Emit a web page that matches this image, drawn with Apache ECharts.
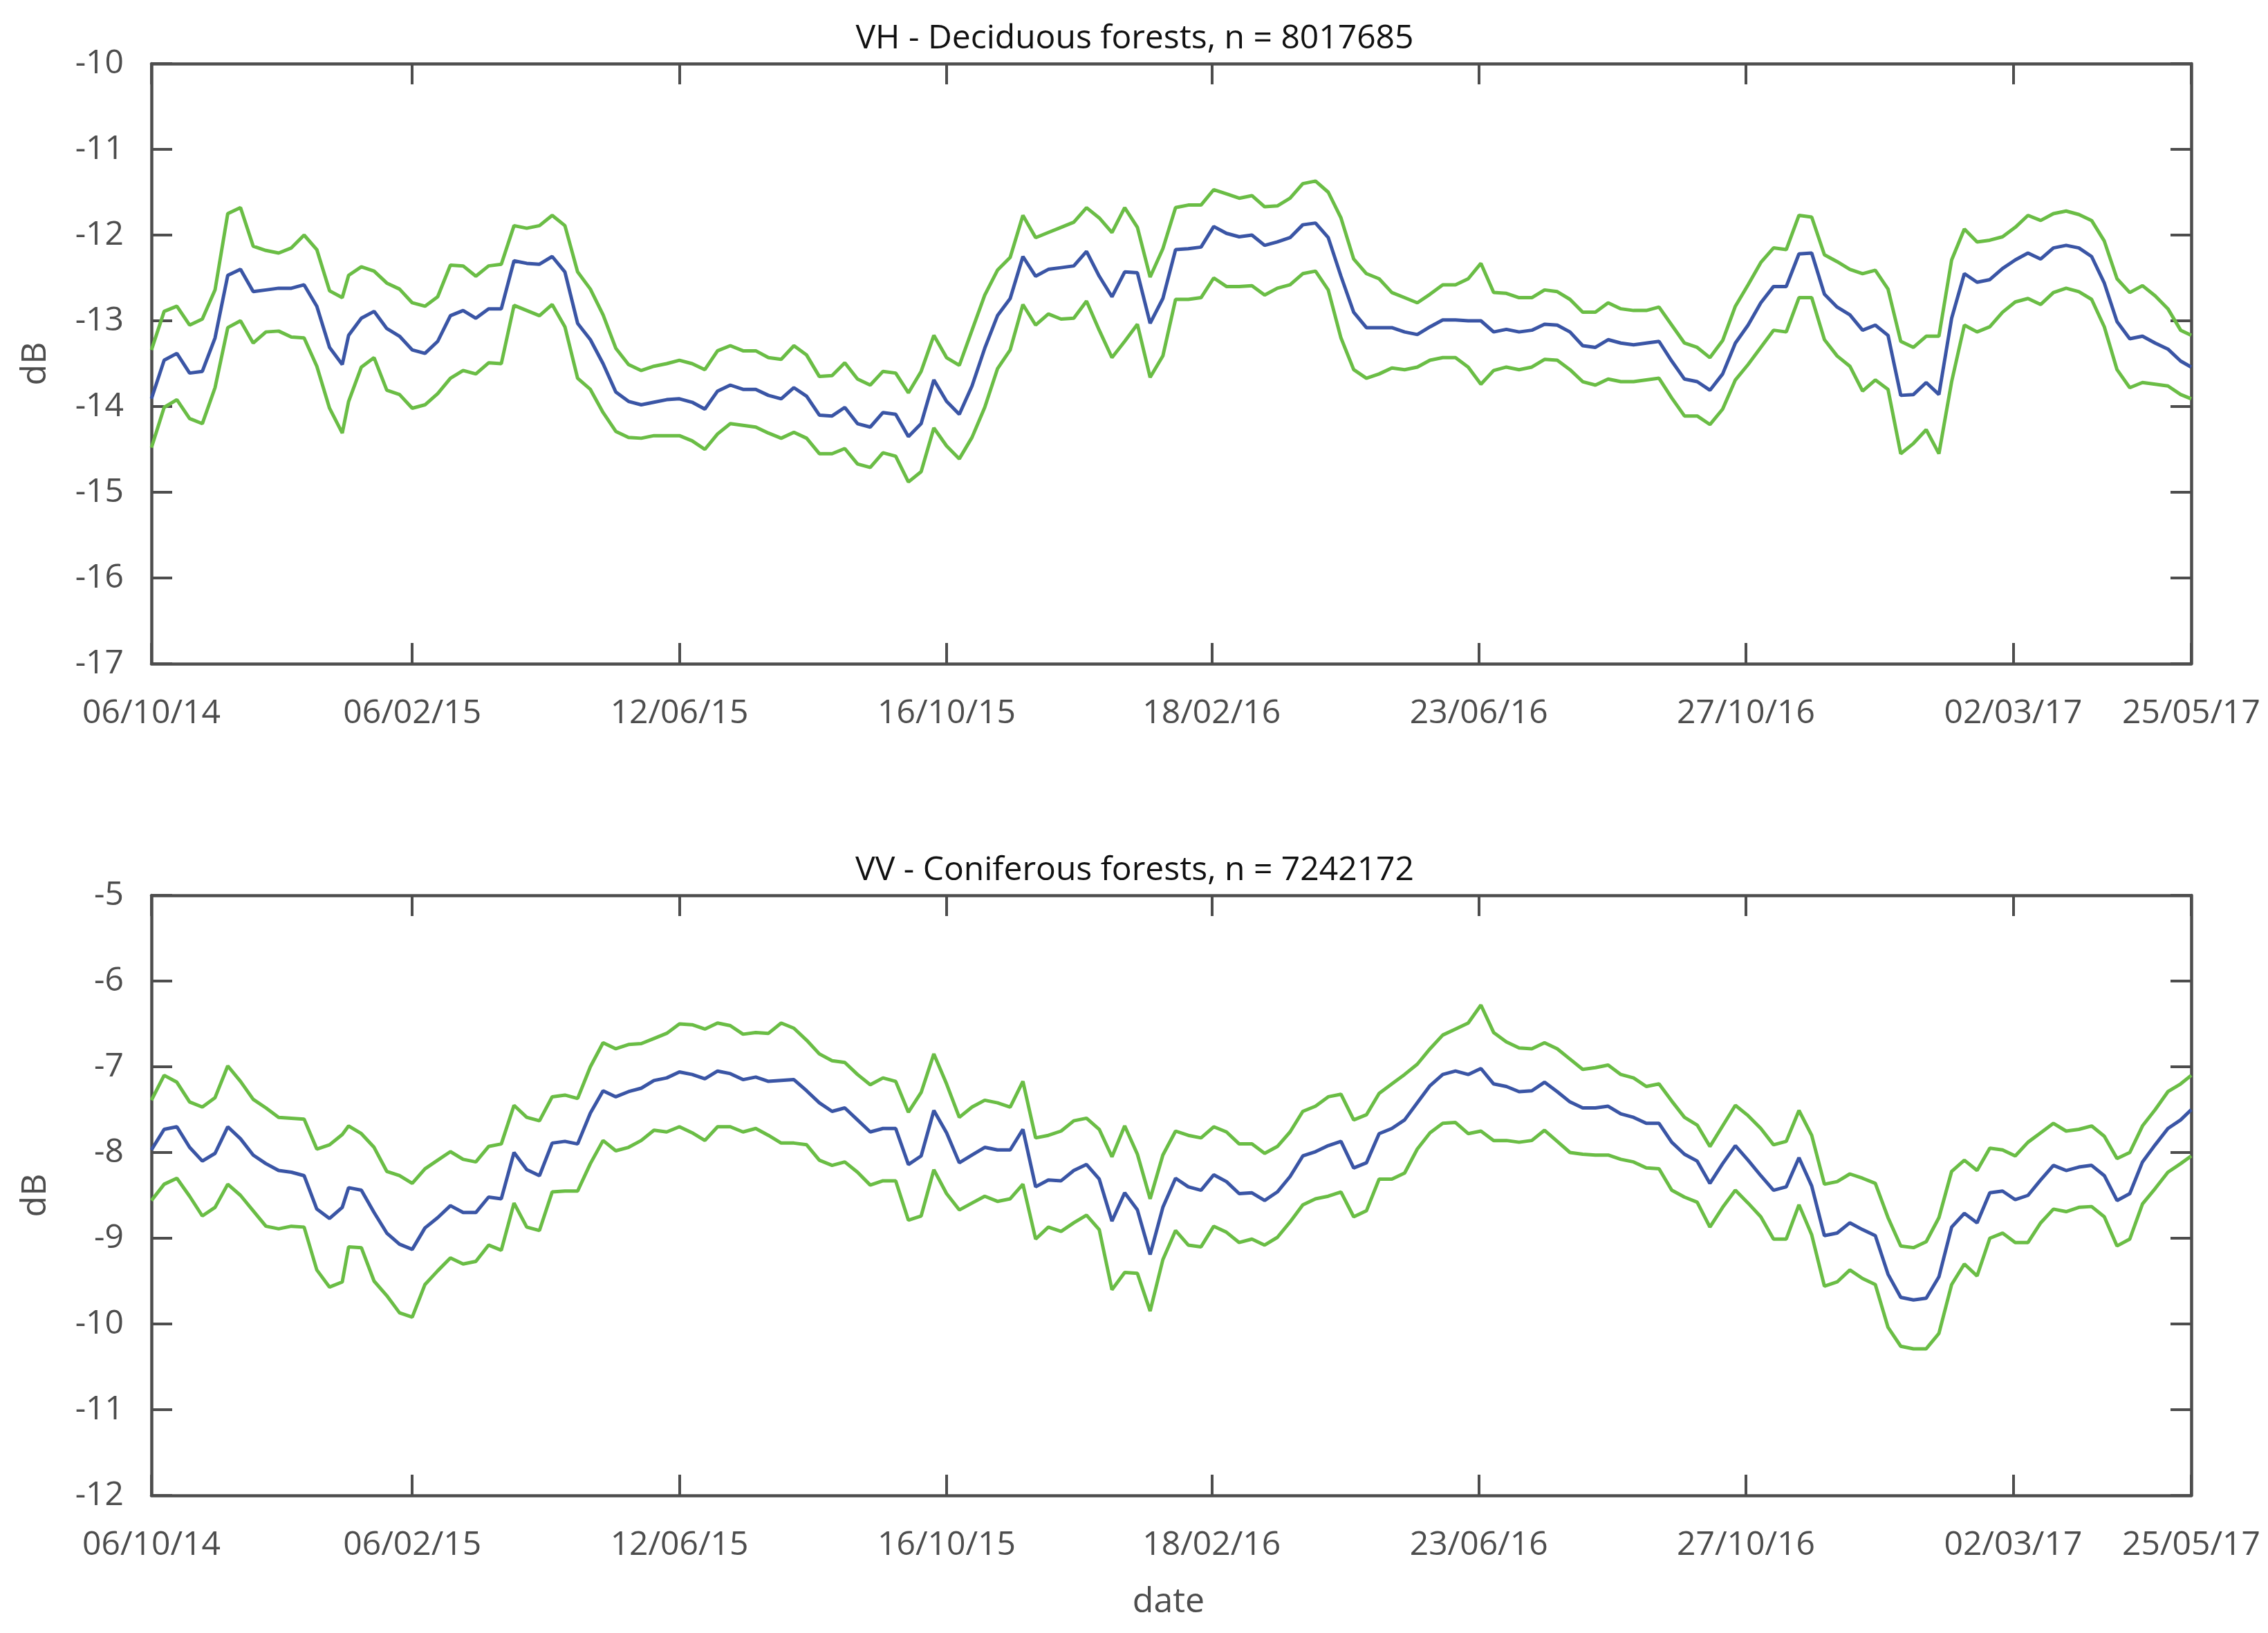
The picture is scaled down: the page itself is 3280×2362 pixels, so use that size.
<!DOCTYPE html>
<html>
<head>
<meta charset="utf-8">
<script src="https://cdn.jsdelivr.net/npm/echarts@6/dist/echarts.min.js"></script>
<style>
html,body{margin:0;padding:0;background:#fff;}
#chart{width:3280px;height:2362px;}
</style>
</head>
<body>
<div id="chart"></div>
<script>
// Day offsets since 06/10/14 of each acquisition
var dates = [0,6,12,18,24,30,36,42,48,54,60,66,72,78,84,90,
93,99,105,111,117,123,129,135,141,147,153,159,165,171,177,183,189,195,201,207,213,219,225,231,237,
243,249,255,261,267,273,279,285,291,297,303,309,315,321,327,333,339,345,351,357,363,369,375,381,387,393,399,405,411,417,423,429,435,441,447,453,459,465,471,477,483,
489,495,501,507,513,519,525,531,537,543,549,555,561,567,573,579,585,591,597,603,609,615,621,627,633,639,645,651,657,663,669,675,681,687,693,699,705,711,717,723,
729,735,741,747,753,759,765,771,777,783,789,795,801,807,813,819,825,831,837,843,849,855,861,867,873,879,885,891,897,903,909,915,921,927,933,939,945,951,957,962];

var tickDays = [0,123,249,375,500,626,752,878,962];
var tickLabels = ['06/10/14','06/02/15','12/06/15','16/10/15','18/02/16','23/06/16','27/10/16','02/03/17','25/05/17'];

var vhMean = [-13.91,-13.46,-13.38,-13.61,-13.59,-13.20,-12.47,-12.40,-12.66,-12.64,
-12.62,-12.62,-12.58,-12.83,-13.31,-13.51,-13.17,-12.97,-12.89,-13.09,
-13.18,-13.34,-13.38,-13.24,-12.94,-12.88,-12.97,-12.86,-12.86,-12.30,
-12.33,-12.34,-12.25,-12.43,-13.03,-13.22,-13.50,-13.83,-13.94,-13.98,-13.95,
-13.92,-13.91,-13.95,-14.03,-13.82,-13.75,-13.80,-13.80,-13.87,-13.91,
-13.78,-13.88,-14.10,-14.11,-14.01,-14.20,-14.24,-14.07,-14.09,-14.35,
-14.20,-13.69,-13.94,-14.09,-13.76,-13.32,-12.94,-12.74,-12.25,-12.48,
-12.40,-12.38,-12.36,-12.19,-12.48,-12.72,-12.43,-12.44,-13.03,-12.74,-12.17,
-12.16,-12.14,-11.90,-11.98,-12.02,-12.00,-12.12,-12.08,-12.03,-11.88,
-11.86,-12.03,-12.48,-12.90,-13.08,-13.08,-13.08,-13.13,-13.16,-13.07,
-12.99,-12.99,-13.00,-13.00,-13.13,-13.10,-13.13,-13.11,-13.04,-13.05,
-13.13,-13.29,-13.31,-13.22,-13.26,-13.28,-13.26,-13.24,-13.47,-13.68,
-13.71,-13.81,-13.62,-13.26,-13.05,-12.79,-12.60,-12.60,-12.22,-12.21,
-12.69,-12.84,-12.93,-13.11,-13.05,-13.17,-13.87,-13.86,-13.72,-13.86,
-12.97,-12.45,-12.55,-12.52,-12.39,-12.29,-12.21,-12.28,-12.15,-12.12,
-12.15,-12.25,-12.56,-13.01,-13.21,-13.18,-13.26,-13.33,-13.47,-13.54];

var vhUpper = [-13.34,-12.89,-12.83,-13.05,-12.98,-12.64,-11.75,-11.68,-12.13,-12.18,
-12.21,-12.15,-12.00,-12.17,-12.65,-12.73,-12.47,-12.37,-12.42,-12.56,
-12.63,-12.79,-12.83,-12.72,-12.35,-12.36,-12.48,-12.36,-12.34,-11.89,
-11.92,-11.89,-11.77,-11.89,-12.43,-12.63,-12.93,-13.32,-13.51,-13.58,-13.53,
-13.50,-13.46,-13.50,-13.57,-13.35,-13.29,-13.35,-13.35,-13.43,-13.45,
-13.29,-13.40,-13.65,-13.64,-13.49,-13.68,-13.75,-13.59,-13.61,-13.84,
-13.59,-13.17,-13.43,-13.52,-13.11,-12.70,-12.41,-12.26,-11.77,-12.03,
-11.97,-11.91,-11.85,-11.68,-11.80,-11.97,-11.68,-11.91,-12.49,-12.16,-11.68,
-11.65,-11.65,-11.47,-11.52,-11.57,-11.54,-11.67,-11.66,-11.57,-11.40,
-11.37,-11.50,-11.80,-12.28,-12.45,-12.51,-12.67,-12.73,-12.79,-12.69,
-12.58,-12.58,-12.51,-12.33,-12.67,-12.68,-12.73,-12.73,-12.64,-12.66,
-12.75,-12.90,-12.90,-12.79,-12.86,-12.88,-12.88,-12.84,-13.05,-13.26,
-13.31,-13.43,-13.23,-12.83,-12.58,-12.32,-12.15,-12.17,-11.77,-11.79,
-12.23,-12.31,-12.40,-12.45,-12.41,-12.63,-13.24,-13.31,-13.18,-13.18,
-12.29,-11.93,-12.08,-12.06,-12.02,-11.91,-11.77,-11.83,-11.75,-11.72,
-11.76,-11.83,-12.07,-12.51,-12.67,-12.59,-12.71,-12.86,-13.11,-13.17];

var vhLower = [-14.48,-14.01,-13.92,-14.14,-14.20,-13.78,-13.08,-13.00,-13.26,-13.13,
-13.12,-13.19,-13.20,-13.53,-14.02,-14.31,-13.94,-13.54,-13.43,-13.81,
-13.86,-14.02,-13.98,-13.85,-13.67,-13.58,-13.62,-13.49,-13.50,-12.82,
-12.88,-12.94,-12.81,-13.07,-13.67,-13.80,-14.07,-14.29,-14.36,-14.37,-14.34,
-14.34,-14.34,-14.40,-14.50,-14.32,-14.20,-14.22,-14.24,-14.31,-14.37,
-14.30,-14.37,-14.55,-14.55,-14.49,-14.67,-14.71,-14.54,-14.58,-14.88,
-14.76,-14.25,-14.46,-14.61,-14.36,-14.01,-13.56,-13.34,-12.81,-13.05,
-12.92,-12.98,-12.97,-12.77,-13.11,-13.43,-13.24,-13.04,-13.66,-13.41,-12.75,
-12.75,-12.73,-12.50,-12.60,-12.60,-12.59,-12.70,-12.62,-12.58,-12.45,
-12.42,-12.64,-13.20,-13.57,-13.67,-13.62,-13.55,-13.57,-13.54,-13.46,
-13.43,-13.43,-13.54,-13.74,-13.58,-13.54,-13.57,-13.54,-13.45,-13.46,
-13.57,-13.71,-13.75,-13.68,-13.71,-13.71,-13.69,-13.67,-13.90,-14.11,
-14.11,-14.21,-14.03,-13.69,-13.51,-13.31,-13.11,-13.13,-12.73,-12.73,
-13.22,-13.41,-13.53,-13.82,-13.69,-13.80,-14.55,-14.43,-14.27,-14.55,
-13.71,-13.05,-13.13,-13.07,-12.90,-12.78,-12.74,-12.81,-12.67,-12.62,
-12.66,-12.75,-13.07,-13.57,-13.78,-13.72,-13.74,-13.76,-13.86,-13.91];

var vvMean = [-7.97,-7.73,-7.70,-7.94,-8.10,-8.01,-7.70,-7.84,-8.03,-8.13,
-8.21,-8.23,-8.27,-8.66,-8.77,-8.64,-8.41,-8.44,-8.70,-8.94,
-9.07,-9.13,-8.88,-8.76,-8.62,-8.70,-8.70,-8.52,-8.54,-8.00,
-8.20,-8.27,-7.89,-7.87,-7.90,-7.54,-7.28,-7.35,-7.29,-7.25,-7.16,
-7.13,-7.06,-7.09,-7.14,-7.05,-7.08,-7.15,-7.12,-7.17,-7.16,
-7.15,-7.28,-7.42,-7.52,-7.48,-7.62,-7.76,-7.72,-7.72,-8.14,
-8.04,-7.51,-7.77,-8.12,-8.03,-7.94,-7.97,-7.97,-7.73,-8.40,
-8.32,-8.33,-8.21,-8.14,-8.31,-8.80,-8.47,-8.67,-9.19,-8.64,-8.30,
-8.40,-8.44,-8.26,-8.34,-8.48,-8.47,-8.56,-8.46,-8.28,-8.04,
-7.99,-7.92,-7.87,-8.18,-8.12,-7.78,-7.72,-7.62,-7.42,-7.22,
-7.09,-7.05,-7.09,-7.02,-7.20,-7.23,-7.29,-7.28,-7.18,-7.29,
-7.41,-7.48,-7.48,-7.46,-7.55,-7.59,-7.66,-7.66,-7.88,-8.02,
-8.10,-8.36,-8.13,-7.92,-8.09,-8.27,-8.44,-8.40,-8.06,-8.39,
-8.97,-8.94,-8.82,-8.90,-8.97,-9.42,-9.69,-9.72,-9.70,-9.45,
-8.87,-8.71,-8.82,-8.47,-8.45,-8.55,-8.50,-8.32,-8.15,-8.21,
-8.17,-8.15,-8.27,-8.56,-8.48,-8.11,-7.91,-7.72,-7.62,-7.50];

var vvUpper = [-7.39,-7.10,-7.18,-7.41,-7.47,-7.36,-6.99,-7.17,-7.38,-7.48,
-7.59,-7.60,-7.61,-7.96,-7.91,-7.79,-7.69,-7.78,-7.94,-8.22,
-8.27,-8.36,-8.19,-8.09,-7.99,-8.08,-8.11,-7.93,-7.90,-7.45,
-7.59,-7.63,-7.35,-7.33,-7.37,-7.00,-6.72,-6.79,-6.74,-6.73,-6.67,
-6.61,-6.50,-6.51,-6.56,-6.49,-6.52,-6.62,-6.60,-6.61,-6.49,
-6.55,-6.69,-6.85,-6.93,-6.95,-7.09,-7.21,-7.13,-7.17,-7.53,
-7.30,-6.85,-7.20,-7.59,-7.47,-7.39,-7.42,-7.47,-7.17,-7.83,
-7.80,-7.75,-7.63,-7.60,-7.73,-8.05,-7.69,-8.02,-8.54,-8.03,-7.75,
-7.80,-7.83,-7.70,-7.76,-7.90,-7.90,-8.01,-7.93,-7.76,-7.52,
-7.46,-7.35,-7.32,-7.62,-7.56,-7.31,-7.20,-7.09,-6.97,-6.79,
-6.63,-6.56,-6.49,-6.28,-6.60,-6.71,-6.78,-6.79,-6.72,-6.79,
-6.91,-7.03,-7.01,-6.98,-7.09,-7.13,-7.23,-7.20,-7.40,-7.59,
-7.68,-7.93,-7.69,-7.45,-7.57,-7.72,-7.91,-7.87,-7.51,-7.80,
-8.37,-8.34,-8.25,-8.30,-8.36,-8.76,-9.09,-9.11,-9.04,-8.76,
-8.22,-8.09,-8.21,-7.95,-7.97,-8.04,-7.88,-7.77,-7.66,-7.75,
-7.73,-7.69,-7.81,-8.07,-8.00,-7.69,-7.50,-7.29,-7.20,-7.10];

var vvLower = [-8.56,-8.37,-8.30,-8.51,-8.74,-8.64,-8.37,-8.50,-8.68,-8.86,
-8.89,-8.86,-8.87,-9.37,-9.57,-9.51,-9.10,-9.11,-9.50,-9.67,
-9.87,-9.92,-9.54,-9.38,-9.23,-9.30,-9.27,-9.08,-9.14,-8.59,
-8.87,-8.91,-8.46,-8.45,-8.45,-8.13,-7.86,-7.98,-7.94,-7.86,-7.74,
-7.76,-7.70,-7.77,-7.86,-7.70,-7.70,-7.76,-7.72,-7.80,-7.89,
-7.89,-7.91,-8.09,-8.15,-8.11,-8.23,-8.38,-8.33,-8.33,-8.79,
-8.74,-8.20,-8.48,-8.67,-8.59,-8.51,-8.57,-8.54,-8.37,-9.01,
-8.87,-8.92,-8.82,-8.73,-8.90,-9.60,-9.40,-9.41,-9.85,-9.25,-8.91,
-9.08,-9.10,-8.86,-8.93,-9.05,-9.01,-9.08,-8.99,-8.81,-8.61,
-8.54,-8.51,-8.46,-8.75,-8.68,-8.31,-8.31,-8.24,-7.96,-7.77,
-7.66,-7.65,-7.78,-7.75,-7.86,-7.86,-7.88,-7.86,-7.74,-7.87,
-8.00,-8.02,-8.03,-8.03,-8.08,-8.11,-8.18,-8.19,-8.44,-8.52,
-8.58,-8.87,-8.64,-8.44,-8.59,-8.75,-9.01,-9.01,-8.61,-8.96,
-9.56,-9.51,-9.37,-9.47,-9.54,-10.04,-10.26,-10.29,-10.29,-10.11,
-9.54,-9.30,-9.44,-9.00,-8.94,-9.05,-9.05,-8.82,-8.66,-8.69,
-8.64,-8.63,-8.75,-9.09,-9.01,-8.60,-8.42,-8.23,-8.13,-8.04];

var titleTop = 'VH - Deciduous forests, n = 8017685';
var titleBottom = 'VV - Coniferous forests, n = 7242172';

var FONT = '"Open Sans", "Noto Sans", sans-serif';
var AX = '#4d4d4d';
var BLUE = '#3a55a5';
var GREEN = '#6abd45';

function pairs(v){ return dates.map(function(d,i){ return [d, v[i]]; }); }

function xAx(grid, pos, showLabel){
  return {
    type:'value', gridIndex:grid, position:pos, min:0, max:962,
    axisLine:{show:true, onZero:false, lineStyle:{color:AX, width:4.5}},
    axisTick:{show:true, inside:true, length:30, customValues:tickDays, lineStyle:{color:AX, width:4}},
    axisLabel:{show:showLabel, customValues:tickDays, margin:48, fontSize:48, fontFamily:FONT, color:AX,
      formatter:function(v){ var i = tickDays.indexOf(Math.round(v)); return i>=0 ? tickLabels[i] : ''; }},
    splitLine:{show:false}
  };
}
function yAx(grid, pos, mn, mx, showLabel){
  return {
    type:'value', gridIndex:grid, position:pos, min:mn, max:mx, interval:1,
    axisLine:{show:true, onZero:false, lineStyle:{color:AX, width:4.5}},
    axisTick:{show:true, inside:true, length:30, lineStyle:{color:AX, width:4}},
    axisLabel:{show:showLabel, margin:40, fontSize:48, fontFamily:FONT, color:AX},
    splitLine:{show:false}
  };
}
function ln(name, v, color, xi, yi){
  return {name:name, type:'line', xAxisIndex:xi, yAxisIndex:yi, data:pairs(v), showSymbol:false,
    symbol:'none', lineStyle:{color:color, width:5}, itemStyle:{color:color}, silent:true};
}

var chart = echarts.init(document.getElementById('chart'), null, {renderer:'canvas'});
chart.setOption({
  animation:false,
  backgroundColor:'#ffffff',
  grid:[
    {left:219, top:92, width:2950, height:868},
    {left:219, top:1295, width:2950, height:868}
  ],
  xAxis:[ xAx(0,'bottom',true), xAx(0,'top',false), xAx(1,'bottom',true), xAx(1,'top',false) ],
  yAxis:[ yAx(0,'left',-17,-10,true), yAx(0,'right',-17,-10,false), yAx(1,'left',-12,-5,true), yAx(1,'right',-12,-5,false) ],
  series:[
    ln('VH upper', vhUpper, GREEN, 0, 0),
    ln('VH lower', vhLower, GREEN, 0, 0),
    ln('VH mean', vhMean, BLUE, 0, 0),
    ln('VV upper', vvUpper, GREEN, 2, 2),
    ln('VV lower', vvLower, GREEN, 2, 2),
    ln('VV mean', vvMean, BLUE, 2, 2)
  ],
  graphic:[
    {type:'text', x:1641, y:56, style:{text:titleTop, font:'48px ' + FONT, fill:'#111', textAlign:'center', textVerticalAlign:'middle'}},
    {type:'text', x:1641, y:1259, style:{text:titleBottom, font:'48px ' + FONT, fill:'#111', textAlign:'center', textVerticalAlign:'middle'}},
    {type:'text', x:52, y:526, rotation:Math.PI/2, style:{text:'dB', font:'50px ' + FONT, fill:AX, textAlign:'center', textVerticalAlign:'middle'}},
    {type:'text', x:52, y:1729, rotation:Math.PI/2, style:{text:'dB', font:'50px ' + FONT, fill:AX, textAlign:'center', textVerticalAlign:'middle'}},
    {type:'text', x:1690, y:2318, style:{text:'date', font:'50px ' + FONT, fill:AX, textAlign:'center', textVerticalAlign:'middle'}}
  ]
});
</script>
</body>
</html>
